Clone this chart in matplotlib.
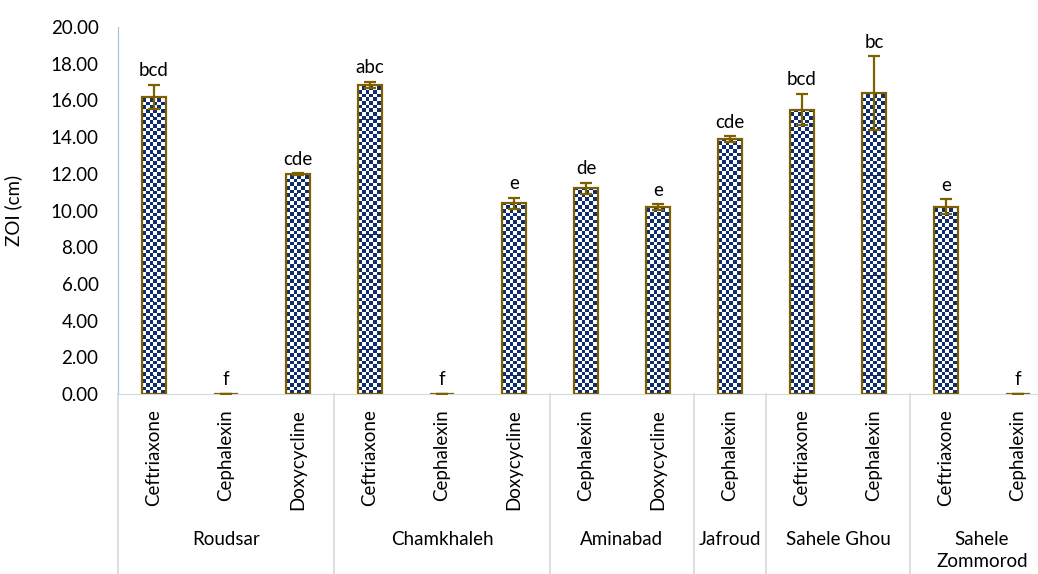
import numpy as np
import matplotlib.pyplot as plt
from matplotlib.colors import ListedColormap
from matplotlib.transforms import blended_transform_factory

# zone of inhibition per site and antibiotic
sites = ['Roudsar', 'Chamkhaleh', 'Aminabad', 'Jafroud', 'Sahele Ghou', 'Sahele\nZommorod']
drugs = [['Ceftriaxone', 'Cephalexin', 'Doxycycline'],
         ['Ceftriaxone', 'Cephalexin', 'Doxycycline'],
         ['Cephalexin', 'Doxycycline'],
         ['Cephalexin'],
         ['Ceftriaxone', 'Cephalexin'],
         ['Ceftriaxone', 'Cephalexin']]
zoi = [16.20, 0.00, 12.00, 16.85, 0.00, 10.40, 11.20, 10.20, 13.90, 15.50, 16.40, 10.20, 0.00]
err = [0.65, 0.00, 0.04, 0.15, 0.00, 0.30, 0.30, 0.15, 0.15, 0.85, 2.00, 0.40, 0.00]
letters = ['bcd', 'f', 'cde', 'abc', 'f', 'e', 'de', 'e', 'cde', 'bcd', 'bc', 'e', 'f']

plt.rcParams['font.family'] = ['Lato', 'DejaVu Sans']
fs = 13.5

W, H = 1038, 574
fig = plt.figure(figsize=(W/100, H/100), dpi=100)
ax_l, ax_b, ax_t = 118, 394, 27
ax_w = 72*13
ax = fig.add_axes([ax_l/W, 1 - ax_b/H, ax_w/W, (ax_b - ax_t)/H])

x = np.arange(len(zoi))
edge = '#7f6000'
navy = '#0f2d6e'
bw = 0.32
ax.set_xlim(-0.5, len(zoi) - 0.5)
ax.set_ylim(0, 20)

bars = ax.bar(x, zoi, width=bw, facecolor='none', edgecolor=edge, linewidth=1.6, zorder=3)

# checkerboard fill clipped to each bar
px_per_x = ax_w / 13
px_per_y = (ax_b - ax_t) / 20
cell = 3.7
cmap = ListedColormap(['white', navy])
for xi, h, b in zip(x, zoi, bars):
    if h <= 0:
        continue
    nx = max(1, int(round(bw*px_per_x/cell)))
    ny = max(1, int(round(h*px_per_y/cell)))
    pat = (np.add.outer(np.arange(ny), np.arange(nx)) % 2).astype(float)
    im = ax.imshow(pat, cmap=cmap,
                   extent=(xi - bw/2, xi - bw/2 + nx*cell/px_per_x, 0, ny*cell/px_per_y),
                   origin='lower', aspect='auto', interpolation='bilinear', zorder=2)
    im.set_clip_path(b)

ax.errorbar(x, zoi, yerr=err, fmt='none', ecolor=edge, elinewidth=1.6,
            capsize=4, capthick=1.6, zorder=4)

for xi, v, e, t in zip(x, zoi, err, letters):
    ax.annotate(t, (xi, v + e), xytext=(0, 4), textcoords='offset points',
                ha='center', va='bottom', fontsize=fs, color='black')

ax.set_yticks(np.arange(0, 21, 2))
ax.set_yticklabels([f'{v:.2f}' for v in np.arange(0, 21, 2)])
ax.tick_params(axis='y', length=0, pad=14, labelsize=fs)
ax.set_ylabel('ZOI (cm)', fontsize=fs)
ax.yaxis.set_label_coords((22 - ax_l)/ax_w, 0.5)

ticklabels = [d for g in drugs for d in g]
ax.set_xticks(x)
ax.set_xticklabels(ticklabels, rotation=90, va='top', ha='center', fontsize=fs)
ax.tick_params(axis='x', length=0, pad=11)

for s in ['top', 'right']:
    ax.spines[s].set_visible(False)
ax.spines['left'].set_color('#9dc3e6')
ax.spines['bottom'].set_color('#d9d9d9')

# site group labels and separators below the axis
tr = blended_transform_factory(ax.transData, ax.transAxes)
axh = ax_b - ax_t
start = -0.5
bottom = -(H - ax_b)/axh
ax.plot([start, start], [0, bottom], color='#d9d9d9', lw=1.2, transform=tr, clip_on=False)
for site, g in zip(sites, drugs):
    end = start + len(g)
    ax.plot([end, end], [0, bottom], color='#d9d9d9', lw=1.2, transform=tr, clip_on=False)
    ax.text((start + end)/2, -(531 - ax_b)/axh, site, transform=tr, ha='center', va='top',
            fontsize=fs, linespacing=1.35)
    start = end

fig.savefig('out.png', dpi=100)
